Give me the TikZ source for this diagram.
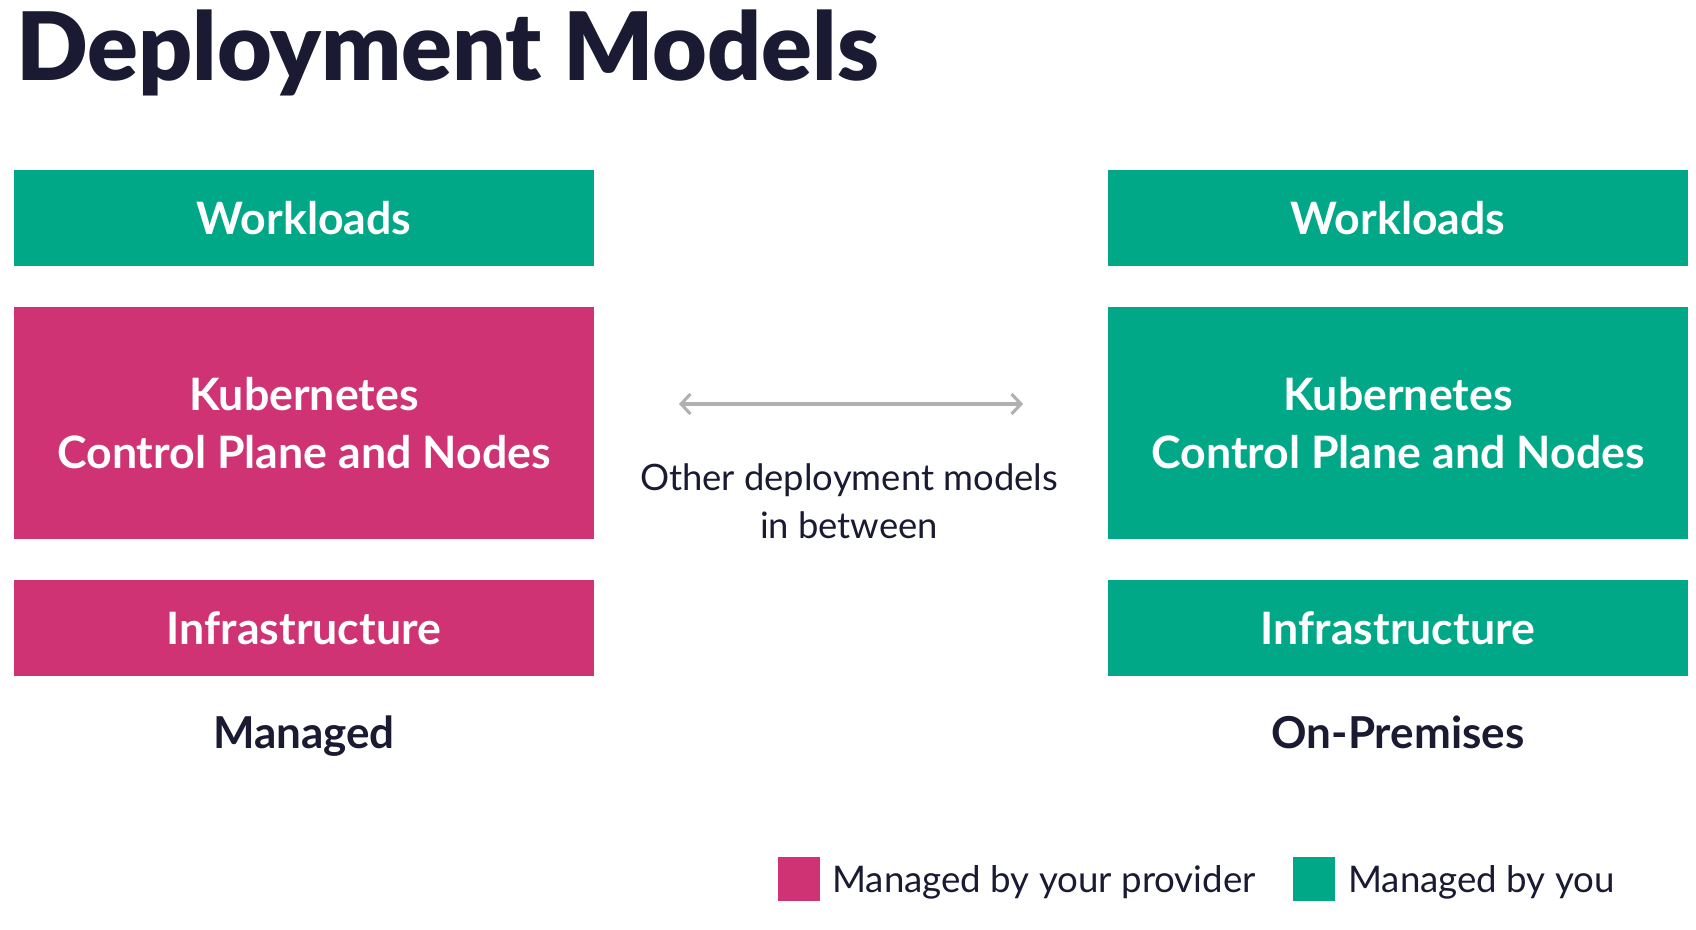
\documentclass[tikz,border=0pt]{standalone}
\usepackage{fontspec}
\setmainfont{Lato}
\newfontfamily\heavyfont{Lato Black}
\usepackage{tikz}
\usetikzlibrary{arrows.meta}

\definecolor{youGreen}{RGB}{0,168,136}
\definecolor{provPink}{RGB}{208,51,115}
\definecolor{titleNavy}{RGB}{26,27,51}
\definecolor{arrGray}{RGB}{176,176,176}

\tikzset{
  layer/.style={minimum width=435pt,inner sep=0pt,text=white,font=\fontsize{33.5}{43}\selectfont\bfseries,align=center},
  thin layer/.style={layer,minimum height=72pt},
  thick layer/.style={layer,minimum height=174pt},
  model/.style={anchor=base,text=titleNavy,font=\fontsize{33}{40}\selectfont\bfseries,inner sep=0pt},
  legend box/.style={minimum width=31pt,minimum height=33pt,inner sep=0pt},
  legend text/.style={anchor=west,text=titleNavy,font=\fontsize{27.5}{33}\selectfont,inner sep=0pt}
}

\begin{document}
\begin{tikzpicture}[x=0.75pt,y=0.75pt,yscale=-1,xscale=1]
%set diagram to 1696 x 930
\path[use as bounding box,fill=white] (0,0) rectangle (1696,930);

% Title
\draw (16,81) node [anchor=base west,inner sep=0pt,text=titleNavy,font=\fontsize{70.8}{74}\selectfont\heavyfont] (title) {Deployment Models};

%Shape: Rectangle - managed stack
\node [thin layer,fill=youGreen] (mwork) at (304,218) {Workloads};
\node [thick layer,fill=provPink] (mkube) at (304,423) {Kubernetes\\Control Plane and Nodes};
\node [thin layer,fill=provPink] (minfra) at (304,628) {Infrastructure};

%Shape: Rectangle - on-premises stack
\node [thin layer,fill=youGreen] (owork) at (1398,218) {Workloads};
\node [thick layer,fill=youGreen] (okube) at (1398,423) {Kubernetes\\Control Plane and Nodes};
\node [thin layer,fill=youGreen] (oinfra) at (1398,628) {Infrastructure};

% Text Node
\node [model] (mlabel) at (304,748) {Managed};
\node [model] (olabel) at (1398,748) {On-Premises};

%Straight Lines
\coordinate (arrL) at (679,404);
\coordinate (arrR) at (1023,404);
\draw [arrGray,line width=2.3pt,{Straight Barb[length=7pt,width=15pt]}-{Straight Barb[length=7pt,width=15pt]}] (arrL) -- (arrR);

% Text Node
\node [align=center,text=titleNavy,font=\fontsize{27.3}{35.7}\selectfont,inner sep=0pt] (between) at (849,501) {Other deployment models\\in between};

% Legend
\node [legend box,fill=provPink] (kprov) at (799,879) {};
\node [legend text] (tprov) at (832,882) {Managed by your provider};
\node [legend box,fill=youGreen] (kyou) at (1314,879) {};
\node [legend text] (tyou) at (1348,882) {Managed by you};

\end{tikzpicture}
\end{document}
